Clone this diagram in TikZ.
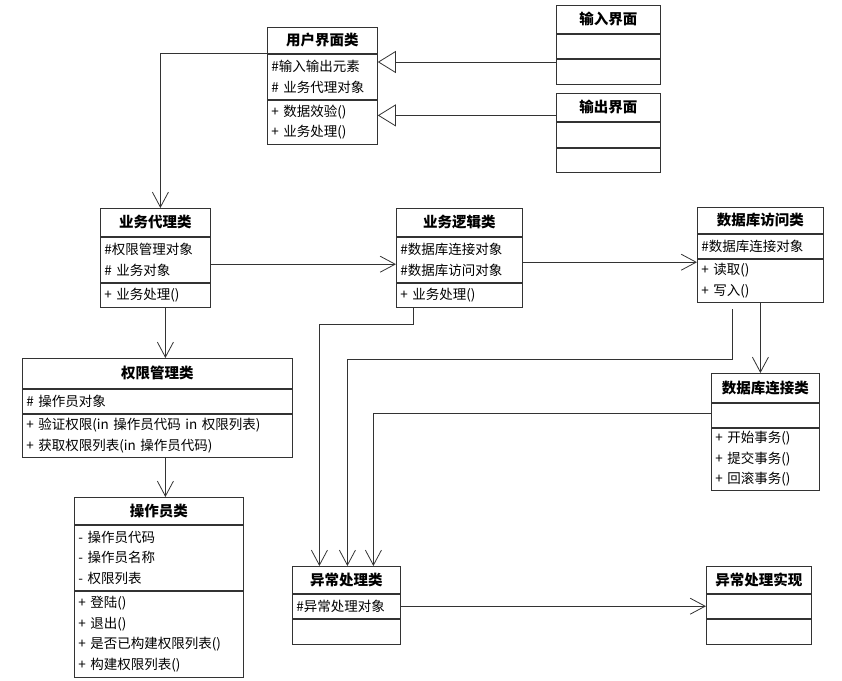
\documentclass[tikz,border=0pt]{standalone}
\usepackage{fontspec}
\setmainfont{Noto Sans CJK SC}
\usetikzlibrary{arrows.meta,positioning}

\begin{document}
\begin{tikzpicture}[x=1pt, y=-1pt, line width=0.8pt, draw=black!80]
    % Styles
    \tikzstyle{clsname} = [draw, anchor=north west, inner sep=0pt, font=\fontsize{14.5}{16}\selectfont\bfseries]
    \tikzstyle{clspart} = [draw, inner xsep=4pt, inner ysep=0pt, align=left, font=\fontsize{13.5}{20.5}\selectfont]
    \tikzstyle{arrow} = [->, >={Straight Barb[length=15pt, width=16pt]}]
    \tikzstyle{gen} = [-{Triangle[open, length=18pt, width=22pt]}]

    \useasboundingbox (0,0) rectangle (842,680);

    % 用户界面类
    \node [clsname, minimum width=110pt, minimum height=26pt] (ui) at (267,27) {用户界面类};
    \node [clspart, text width=102pt, minimum height=45pt, below=0pt of ui] (ui-a) {\#输入输出元素\\\# 业务代理对象};
    \node [clspart, text width=102pt, minimum height=44pt, below=0pt of ui-a] (ui-m) {+ 数据效验()\\+ 业务处理()};

    % 输入界面 / 输出界面
    \node [clsname, minimum width=104pt, minimum height=28pt] (inp) at (556,5) {输入界面};
    \node [clspart, text width=96pt, minimum height=24pt, below=0pt of inp] (inp-a) {};
    \node [clspart, text width=96pt, minimum height=25pt, below=0pt of inp-a] (inp-m) {};

    \node [clsname, minimum width=104pt, minimum height=28pt] (outp) at (556,93) {输出界面};
    \node [clspart, text width=96pt, minimum height=25pt, below=0pt of outp] (outp-a) {};
    \node [clspart, text width=96pt, minimum height=24pt, below=0pt of outp-a] (outp-m) {};

    % 业务代理类
    \node [clsname, minimum width=110pt, minimum height=28pt] (proxy) at (100,208) {业务代理类};
    \node [clspart, text width=102pt, minimum height=45pt, below=0pt of proxy] (proxy-a) {\#权限管理对象\\\# 业务对象};
    \node [clspart, text width=102pt, minimum height=24pt, below=0pt of proxy-a] (proxy-m) {+ 业务处理()};

    % 业务逻辑类
    \node [clsname, minimum width=126pt, minimum height=28pt] (logic) at (396,208) {业务逻辑类};
    \node [clspart, text width=118pt, minimum height=45pt, below=0pt of logic] (logic-a) {\#数据库连接对象\\\#数据库访问对象};
    \node [clspart, text width=118pt, minimum height=24pt, below=0pt of logic-a] (logic-m) {+ 业务处理()};

    % 数据库访问类
    \node [clsname, minimum width=126pt, minimum height=26pt] (dbacc) at (697,207) {数据库访问类};
    \node [clspart, text width=118pt, minimum height=24pt, below=0pt of dbacc] (dbacc-a) {\#数据库连接对象};
    \node [clspart, text width=118pt, minimum height=43pt, below=0pt of dbacc-a] (dbacc-m) {+ 读取()\\+ 写入()};

    % 数据库连接类
    \node [clsname, minimum width=108pt, minimum height=29pt] (dbconn) at (711,373) {数据库连接类};
    \node [clspart, text width=100pt, minimum height=24pt, below=0pt of dbconn] (dbconn-a) {};
    \node [clspart, text width=100pt, minimum height=62pt, below=0pt of dbconn-a] (dbconn-m) {+ 开始事务()\\+ 提交事务()\\+ 回滚事务()};

    % 权限管理类
    \node [clsname, minimum width=270pt, minimum height=30pt] (perm) at (22,358) {权限管理类};
    \node [clspart, text width=262pt, minimum height=24pt, below=0pt of perm] (perm-a) {\# 操作员对象};
    \node [clspart, text width=262pt, minimum height=43pt, below=0pt of perm-a] (perm-m) {+ 验证权限(in 操作员代码 in 权限列表)\\+ 获取权限列表(in 操作员代码)};

    % 操作员类
    \node [clsname, minimum width=169pt, minimum height=27pt] (oper) at (74,497) {操作员类};
    \node [clspart, text width=161pt, minimum height=65pt, below=0pt of oper] (oper-a) {- 操作员代码\\- 操作员名称\\- 权限列表};
    \node [clspart, text width=161pt, minimum height=86pt, below=0pt of oper-a] (oper-m) {+ 登陆()\\+ 退出()\\+ 是否已构建权限列表()\\+ 构建权限列表()};

    % 异常处理类 / 异常处理实现
    \node [clsname, minimum width=108pt, minimum height=27pt] (exc) at (292,566) {异常处理类};
    \node [clspart, text width=100pt, minimum height=24pt, below=0pt of exc] (exc-a) {\#异常处理对象};
    \node [clspart, text width=100pt, minimum height=25pt, below=0pt of exc-a] (exc-m) {};

    \node [clsname, minimum width=105pt, minimum height=27pt] (excimpl) at (706,566) {异常处理实现};
    \node [clspart, text width=97pt, minimum height=24pt, below=0pt of excimpl] (excimpl-a) {};
    \node [clspart, text width=97pt, minimum height=25pt, below=0pt of excimpl-a] (excimpl-m) {};

    % Generalization
    \draw [gen] ([yshift=9.5pt]inp-m.west) -- ([yshift=9.5pt]inp-m.west -| ui-a.east);
    \draw [gen] ([yshift=-8pt]outp.west) -- ([yshift=-8pt]outp.west -| ui-m.east);

    % Associations
    \draw [arrow] (ui.south west) -| ([xshift=5pt]proxy.north);
    \draw [arrow] ([yshift=-4.5pt]proxy-a.east) -- ([yshift=-4.5pt]proxy-a.east -| logic-a.west);
    \draw [arrow] ([yshift=-2.5pt]logic-a.east) -- ([yshift=-2.5pt]logic-a.east -| dbacc-m.west);
    \draw [arrow] ([xshift=10pt]proxy-m.south) -- ([xshift=10pt]proxy-m.south |- perm.north);
    \draw [arrow] ([xshift=8pt]perm-m.south) -- ([xshift=8pt]perm-m.south |- oper.north);
    \draw [arrow] (dbacc-m.south) -- (dbacc-m.south |- dbconn.north);

    % To exception handling
    \draw [arrow] ([xshift=-46pt]logic-m.south) -- ++(0,17) -| ([xshift=-27pt]exc.north);
    \draw [arrow] ([xshift=-28pt, yshift=-7pt]dbacc-m.south) -- ++(0,50) -| ([xshift=1pt]exc.north);
    \draw [arrow] ([yshift=2pt]dbconn-a.west) -| ([xshift=27pt]exc.north);
    \draw [arrow] (exc-a.east) -- (exc-a.east -| excimpl-a.west);

\end{tikzpicture}
\end{document}
